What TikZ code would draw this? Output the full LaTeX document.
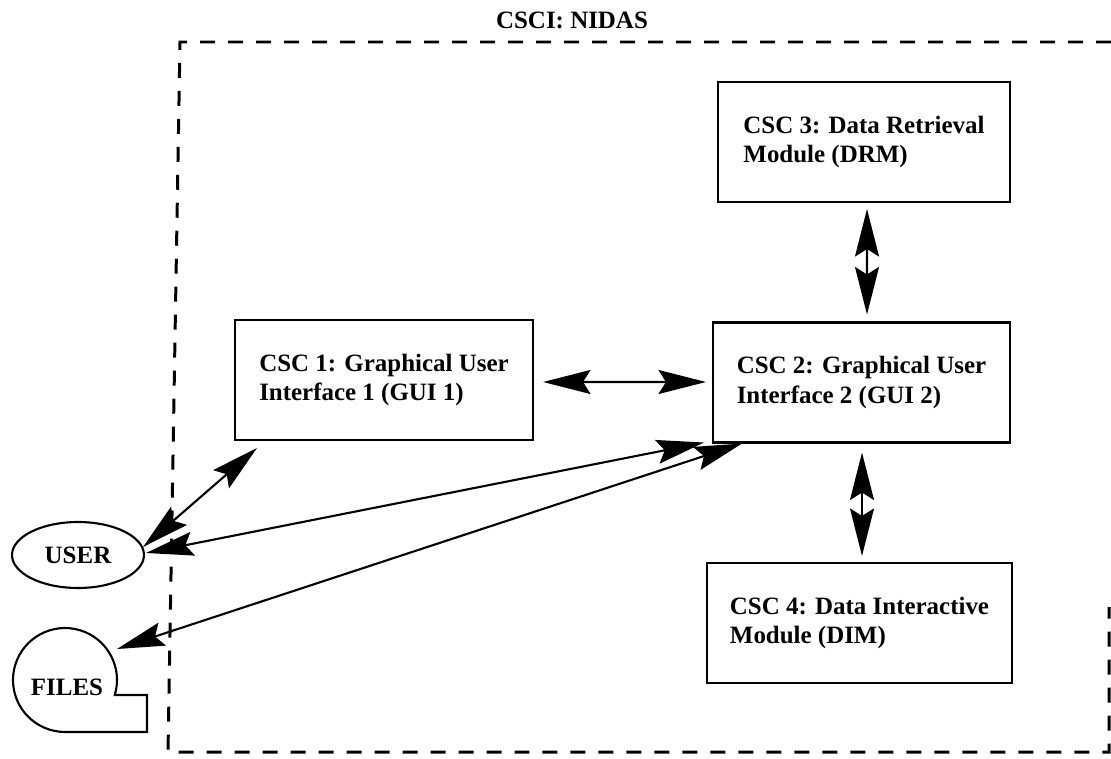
\documentclass[tikz,border=0pt]{standalone}
\usepackage{fontspec}
\setmainfont{Liberation Serif}
\usetikzlibrary{arrows.meta,calc,shapes.geometric}
\begin{document}
\begin{tikzpicture}[x=0.02cm,y=0.02cm,
  every node/.style={font=\fontsize{14.2}{17}\selectfont\bfseries},
  csc/.style={draw, line width=1.2pt, align=left, minimum height=2.4cm, inner sep=0pt},
  conn/.style={line width=1.2pt, {Stealth[length=0.95cm,width=0.48cm,inset=0.15cm]}-{Stealth[length=0.95cm,width=0.48cm,inset=0.15cm]}},
  frame/.style={line width=1.7pt, dash pattern=on 0.3cm off 0.26cm},
  ]
\useasboundingbox (0,0) rectangle (1111,758);
% title
\node (title) at (572,738) {CSCI: NIDAS};
% frame
\draw[frame] (1111,716) -- (180,716) -- (168,6) -- (1109,6) -- (1109,151);
% boxes
\node[csc, minimum width=5.84cm] (csc3) at (864,616) {CSC 3: Data Retrieval\\Module (DRM)};
\node[csc, minimum width=5.96cm] (csc1) at (384,378) {CSC 1: Graphical User\\Interface 1 (GUI 1)};
\node[csc, minimum width=5.94cm] (csc2) at (861.5,375.5) {CSC 2: Graphical User\\Interface 2 (GUI 2)};
\node[csc, minimum width=6.1cm] (csc4) at (859.5,135) {CSC 4: Data Interactive\\Module (DIM)};
% user
\node[draw, ellipse, line width=1.2pt, minimum width=2.64cm, minimum height=1.32cm, inner sep=0pt] (user) at (78,203) {USER};
% files
\coordinate (fc) at (65,78);
\node[inner sep=0pt] (files) at (67,71) {FILES};
\draw[line width=1.2pt] ($(fc)+(0,-52)$) -- (147,26) -- (147,63) -- ($(fc)+(-16.8:1.04cm)$) arc[start angle=-16.8, end angle=270, radius=1.04cm] -- cycle;
% connectors
\draw[conn] ($(csc1.east)+(9,-2)$) -- ($(csc2.west)+(-6,0.5)$);
\draw[conn] ($(csc3.south)+(3,-6)$) -- ($(csc2.north)+(5.5,7)$);
\draw[conn] ($(csc2.south)+(0.5,-9)$) -- ($(csc4.north)+(2.5,6)$);
\draw[conn] ($(csc1.south west)+(23,-7)$) -- ($(user.east)+(-2,8)$);
\draw[conn] ($(csc2.south west)+(-8,1)$) -- ($(user.east)+(1,2)$);
\draw[conn] ($(csc2.south west)+(30,0)$) -- ($(fc)+(52,31)$);
\end{tikzpicture}
\end{document}
